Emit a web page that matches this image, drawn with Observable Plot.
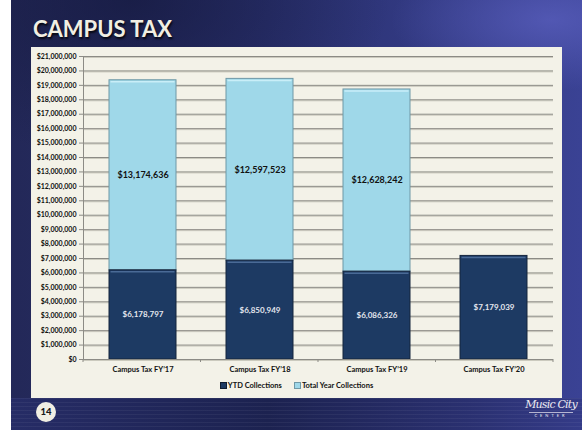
<!DOCTYPE html>
<html>
<head>
<meta charset="utf-8">
<script src="https://cdn.jsdelivr.net/npm/d3@7"></script>
<script src="https://cdn.jsdelivr.net/npm/@observablehq/plot@0.6"></script>
<style>
  html, body { margin: 0; padding: 0; background: #ffffff; width: 582px; height: 430px; overflow: hidden; }
  #slide {
    position: absolute; left: 11px; top: 0; width: 571px; height: 430px; overflow: hidden;
    background:
      radial-gradient(ellipse 160px 70px at 540px 20px, rgba(90,95,190,0.75), rgba(90,95,190,0) 100%),
      radial-gradient(ellipse 260px 160px at 120px 0px, rgba(20,24,60,0.7), rgba(20,24,60,0) 100%),
      linear-gradient(to right, #232858 0%, #2a3170 45%, #3a4294 100%);
  }
  #band {
    position: absolute; left: 0; top: 398px; width: 571px; height: 32px;
    background:
      repeating-linear-gradient(to bottom, rgba(255,255,255,0.05) 0px, rgba(255,255,255,0.05) 1px, rgba(0,0,0,0) 1px, rgba(0,0,0,0) 4px),
      linear-gradient(to right, #262c66 0%, #1c2250 45%, #2a3070 80%, #343b88 100%);
  }
  #title {
    position: absolute; left: 22px; top: 15px; font-family: Lato, "Open Sans", sans-serif;
    font-weight: bold; font-size: 22px; color: #f1efe3; letter-spacing: 0px; white-space: nowrap;
    text-shadow: 1px 2px 2px rgba(0,0,0,0.8);
  }
  #panel {
    position: absolute; left: 20px; top: 47px; width: 531px; height: 351px; background: #f3f2e8;
  }
  #panel svg { display: block; }
  #legend {
    position: absolute; left: 0; top: 333px; width: 531px; height: 12px; text-align: center; white-space: nowrap;
    font-family: Lato, sans-serif; font-weight: bold; font-size: 7.5px; line-height: 12px; color: #111;
  }
  #legend span.item { display: inline-block; margin: 0 6px; vertical-align: middle; }
  #legend span.sw { display: inline-block; width: 7px; height: 7px; vertical-align: -1px; margin-right: 1px; box-sizing: border-box; }
  #pagenum {
    position: absolute; left: 25px; top: 402px; width: 20px; height: 20px; border-radius: 10px;
    background: #f1efe3; color: #1a1a1a; font-family: Lato, sans-serif; font-weight: 900; font-size: 9.5px;
    text-align: center; line-height: 20px;
  }
  #logo {
    position: absolute; left: 508px; top: 398px; width: 64px; height: 32px; color: #eceaf2;
    font-family: "DejaVu Serif", "Liberation Serif", serif; font-style: italic; text-align: center; white-space: nowrap;
  }
  #logo .big { font-size: 11px; line-height: 13px; letter-spacing: -0.8px; }
  #logo .small { font-size: 4px; letter-spacing: 3px; line-height: 6px; font-style: normal; font-family: Lato, sans-serif; border-top: 1px solid rgba(236,234,242,0.7); margin: 1px 10px 0 10px; }
</style>
</head>
<body>
<div id="slide">
  <div id="band"></div>
  <div id="title">CAMPUS TAX</div>
  <div id="panel"></div>
  <div id="pagenum">14</div>
  <div id="logo"><div class="big">Music City</div><div class="small">CENTER</div></div>
</div>
<script>
// ---- data ----
const categories = ["Campus Tax FY\u201917", "Campus Tax FY\u201918", "Campus Tax FY\u201919", "Campus Tax FY\u201920"];
const seriesNames = ["YTD Collections", "Total Year Collections"];
const ytdCollections = [6178797, 6850949, 6086326, 7179039];
const totalYearCollections = [13174636, 12597523, 12628242, null];
const yTickValues = [0, 1000000, 2000000, 3000000, 4000000, 5000000, 6000000, 7000000, 8000000, 9000000, 10000000,
  11000000, 12000000, 13000000, 14000000, 15000000, 16000000, 17000000, 18000000, 19000000, 20000000, 21000000];

// ---- styles ----
const darkFill = "#1d3a63";
const lightFill = "#9fd8e9";

// build stacked rows from the arrays
const rows = [];
categories.forEach((c, i) => {
  const a = ytdCollections[i];
  rows.push({cat: c, series: seriesNames[0], value: a, y1: 0, y2: a});
  const b = totalYearCollections[i];
  if (b != null) rows.push({cat: c, series: seriesNames[1], value: b, y1: a, y2: a + b});
});
const darkRows = rows.filter(d => d.series === seriesNames[0]);
const lightRows = rows.filter(d => d.series === seriesNames[1]);
const fmt = d3.format("$,.0f");

function yAxisLine(index, scales, values, dims) {
  const g = d3.create("svg:g");
  g.append("line")
    .attr("x1", dims.marginLeft + 0.5).attr("x2", dims.marginLeft + 0.5)
    .attr("y1", scales.y(21000000)).attr("y2", scales.y(0))
    .attr("stroke", "#8c8b85");
  return g.node();
}
function xCategoryTicks(index, scales, values, dims) {
  const g = d3.create("svg:g");
  const n = categories.length;
  const w = dims.width - dims.marginLeft - dims.marginRight;
  const y0 = scales.y(0);
  for (let k = 0; k <= n; k++) {
    const x = dims.marginLeft + k * w / n;
    g.append("line").attr("x1", x).attr("x2", x).attr("y1", y0).attr("y2", y0 + 3).attr("stroke", "#8c8b85");
  }
  return g.node();
}

const chart = Plot.plot({
  width: 531,
  height: 331,
  marginLeft: 52,
  marginRight: 9,
  marginTop: 9,
  marginBottom: 19,
  style: {background: "transparent", fontFamily: "Lato, sans-serif", fontSize: "7px", fontWeight: "bold", color: "#111", overflow: "visible"},
  x: {domain: categories, paddingInner: 0.43, paddingOuter: 0.215, tickSize: 0, tickPadding: 7, label: null},
  y: {domain: [0, 21000000], ticks: yTickValues, tickFormat: fmt, tickSize: 4, tickPadding: 3, label: null},
  marks: [
    Plot.ruleY(yTickValues, {stroke: "#cbcabe", dy: 1}),
    Plot.ruleY(yTickValues, {stroke: "#8c8b85"}),
    yAxisLine,
    xCategoryTicks,
    Plot.barY(lightRows, {x: "cat", y1: "y1", y2: "y2", fill: lightFill, stroke: "#6f98a6", strokeWidth: 1}),
    Plot.tickY(lightRows, {x: "cat", y: "y2", stroke: "#c9eef8", strokeWidth: 1.5, dy: 1.5, insetLeft: 1.5, insetRight: 1.5}),
    Plot.barY(darkRows, {x: "cat", y1: "y1", y2: "y2", fill: darkFill, stroke: "#14243c", strokeWidth: 1}),
    Plot.tickY(darkRows, {x: "cat", y: "y2", stroke: "#4a6a96", strokeWidth: 1.5, dy: 1.5, insetLeft: 1.5, insetRight: 1.5}),
    Plot.text(lightRows, {x: "cat", y: d => (d.y1 + d.y2) / 2, text: d => fmt(d.value), fill: "#111", fontSize: 9, fontWeight: "bold"}),
    Plot.text(darkRows, {x: "cat", y: d => (d.y1 + d.y2) / 2, text: d => fmt(d.value), fill: "#e4e6ee", fontSize: 8, fontWeight: "bold"}),
    Plot.ruleY([0], {stroke: "#8c8b85"})
  ]
});
const panel = document.getElementById("panel");
panel.appendChild(chart);
chart.querySelectorAll('[aria-label="x-axis tick label"] text').forEach(t => t.setAttribute("font-size", "7.5"));
chart.querySelectorAll('[aria-label="y-axis tick"] path, [aria-label="y-axis tick"]').forEach(t => t.setAttribute("stroke", "#8c8b85"));

// legend
const legend = document.createElement("div");
legend.id = "legend";
const swatches = [[darkFill, "#0f1c30"], [lightFill, "#6f98a6"]];
seriesNames.forEach((name, i) => {
  const item = document.createElement("span");
  item.className = "item";
  const sw = document.createElement("span");
  sw.className = "sw";
  sw.style.background = swatches[i][0];
  sw.style.border = "1px solid " + swatches[i][1];
  item.appendChild(sw);
  item.appendChild(document.createTextNode(name));
  legend.appendChild(item);
});
panel.appendChild(legend);
</script>
</body>
</html>
